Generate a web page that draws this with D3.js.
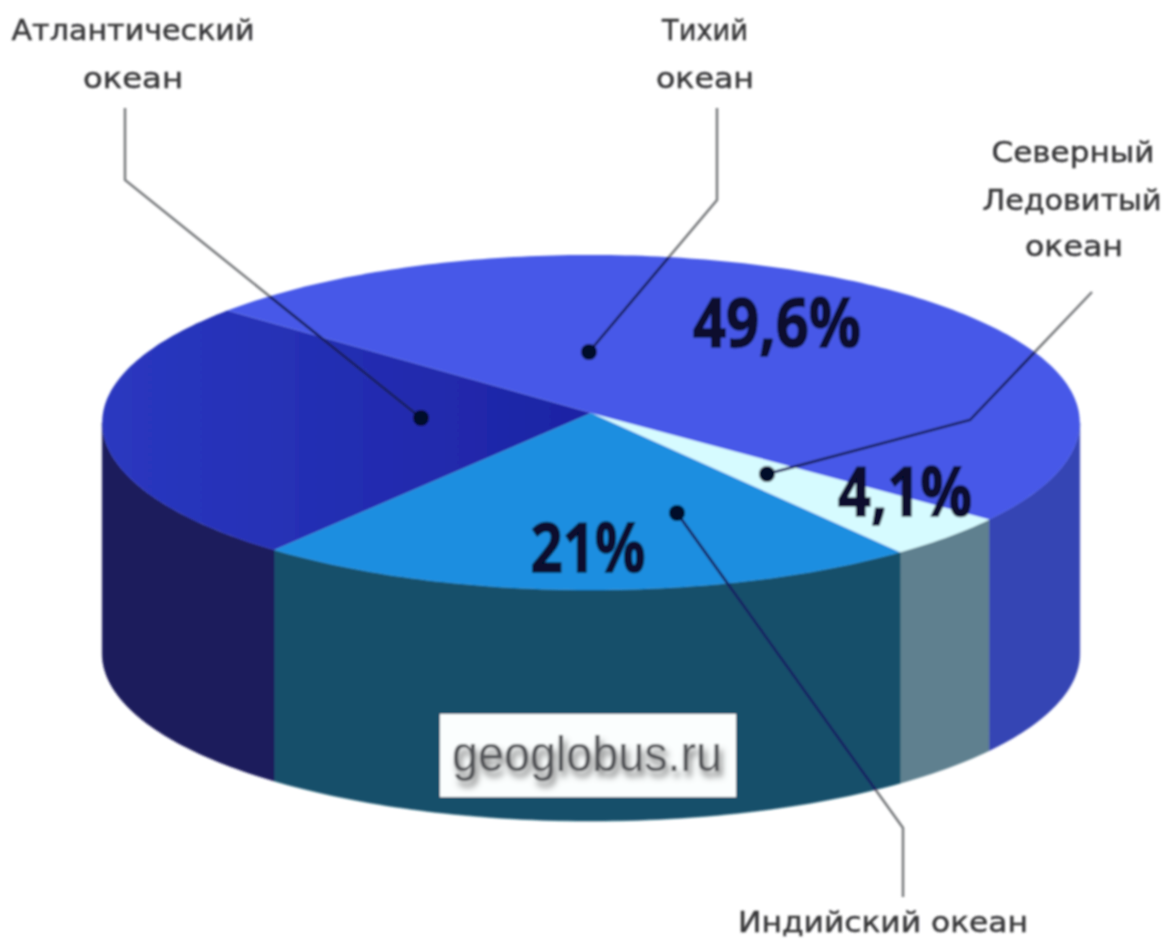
<!DOCTYPE html>
<html lang="ru">
<head>
<meta charset="utf-8">
<script src="https://cdn.jsdelivr.net/npm/d3@7"></script>
<style>
    html, body { margin: 0; padding: 0; background: #fff; }
    svg { display: block; }
</style>
</head>
<body>
<div id="div_chart"></div>
<script>
// Data (share of the world ocean, %), Atlantic is what is left of 100
var oceans = ["Северный Ледовитый океан", "Индийский океан", "Атлантический океан", "Тихий океан"];
var shares = [4.1, 21, 25.3, 49.6];
var shareLabels = ["4,1%", "21%", null, "49,6%"];

// Basic size information
var svgWidth = 1166;
var svgHeight = 941;
var wallDepth = 231;
var firstSliceAngle = 128; // degrees clockwise from 12 o'clock
var perspective = 0.0567;  // the near half of the disc looks larger than the far half

// Colors per ocean
var topColors = ["#d6fbff", "#1f8ee0", "url(#atlanticTop)", "#4659e8"];
var wallColors = ["#5f808f", "#12506a", "#1b1a5c", "#3644b4"];
var leaderInside = "#0c1260";
var leaderOutside = "#77797c";

// Disc coordinates (-1..1) to pixels, the center of the disc is the apex of the slices
var x = d3.scaleLinear().domain([-1, 1]).range([103, 1079]);
var y = d3.scaleLinear().domain([-1, 1]).range([246, 580]);

function rim(a, dy) {
    var w = 1 - perspective * -Math.cos(a);
    return [x(Math.sin(a) / w), y(-Math.cos(a) / w) + (dy || 0)];
}
function rad(deg) { return deg * Math.PI / 180; }
function arcPoints(a0, a1, dy) {
    var n = Math.max(2, Math.ceil(Math.abs(a1 - a0) / rad(1)));
    return d3.range(n + 1).map(i => rim(a0 + (a1 - a0) * i / n, dy));
}

var line = d3.line();
var pie = d3.pie().sort(null)
    .startAngle(rad(firstSliceAngle))
    .endAngle(rad(firstSliceAngle + 360));
var slices = pie(shares);

// Where the side of the disc stops being visible
var nearFrom = rad(90) + Math.asin(perspective);
var nearTo = rad(270) - Math.asin(perspective);

// Create svg canvas
var svg = d3.select("#div_chart")
    .append("svg")
        .attr("width", svgWidth)
        .attr("height", svgHeight);

var defs = svg.append("defs");
defs.append("filter").attr("id", "soft")
    .attr("x", "-5%").attr("y", "-5%").attr("width", "110%").attr("height", "110%")
    .append("feGaussianBlur").attr("stdDeviation", 0.9);
defs.append("filter").attr("id", "shadow")
    .attr("x", "-10%").attr("y", "-30%").attr("width", "120%").attr("height", "170%")
    .append("feDropShadow")
        .attr("dx", 3).attr("dy", 6).attr("stdDeviation", 3)
        .attr("flood-color", "#777");
var grad = defs.append("linearGradient").attr("id", "atlanticTop")
    .attr("gradientUnits", "userSpaceOnUse")
    .attr("x1", x(-1)).attr("x2", x(0)).attr("y1", y(0)).attr("y2", y(0));
grad.append("stop").attr("offset", 0).attr("stop-color", "#2a38c0");
grad.append("stop").attr("offset", 1).attr("stop-color", "#1d23a4");

// Outline of the whole disc, used so leaders change color over the pie
var outline = arcPoints(nearFrom, nearTo - rad(360))
    .concat(arcPoints(nearTo, nearFrom, wallDepth));
defs.append("clipPath").attr("id", "discClip")
    .append("path").attr("d", line(outline) + "Z");

var chart = svg.append("g").attr("filter", "url(#soft)");

// Walls, only the near part of the rim can be seen
var walls = chart.append("g");
slices.forEach(function (d, i) {
    [0, 360].forEach(function (turn) {
        var lo = Math.max(d.startAngle, nearFrom + rad(turn));
        var hi = Math.min(d.endAngle, nearTo + rad(turn));
        if (hi <= lo) return;
        var pts = arcPoints(lo, hi).concat(arcPoints(hi, lo, wallDepth));
        walls.append("path")
            .attr("d", line(pts) + "Z")
            .attr("fill", wallColors[i])
            .attr("stroke", wallColors[i])
            .attr("stroke-width", 0.5);
    });
});

// Top of the disc
chart.append("g").selectAll("path")
    .data(slices)
    .join("path")
        .attr("d", d => line([[x(0), y(0)]].concat(arcPoints(d.startAngle, d.endAngle))) + "Z")
        .attr("fill", (d, i) => topColors[i]);

// Leader lines, from the label to the dot on the slice
var leaders = [
    [[1092, 292], [970, 420], [767, 474]],
    [[903, 897], [903, 828], [677, 513]],
    [[125, 108], [125, 180], [421, 418]],
    [[717, 108], [717, 200], [589, 352]]
];
var leaderLine = d3.line().curve(d3.curveLinear);

chart.append("g").selectAll("path")
    .data(leaders)
    .join("path")
        .attr("d", d => leaderLine(d))
        .attr("fill", "none")
        .attr("stroke", leaderOutside)
        .attr("stroke-width", 2.5);

chart.append("g").attr("clip-path", "url(#discClip)").selectAll("path")
    .data(leaders)
    .join("path")
        .attr("d", d => leaderLine(d))
        .attr("fill", "none")
        .attr("stroke", leaderInside)
        .attr("stroke-width", 2.5);

chart.append("g").selectAll("circle")
    .data(leaders)
    .join("circle")
        .attr("cx", d => d[2][0])
        .attr("cy", d => d[2][1])
        .attr("r", 8)
        .attr("fill", "#060a2c");

// Percent labels on the slices
var percentPos = [[905, 516, 134], [588, 572, 115], null, [777, 347, 168]];
chart.append("g").selectAll("text")
    .data(shareLabels.map((t, i) => ({t: t, p: percentPos[i]})).filter(d => d.t))
    .join("text")
        .attr("x", d => d.p[0])
        .attr("y", d => d.p[1])
        .attr("text-anchor", "middle")
        .attr("textLength", d => d.p[2])
        .attr("lengthAdjust", "spacingAndGlyphs")
        .style("font", "bold 68px 'Open Sans', sans-serif")
        .attr("fill", "#07102f")
        .attr("stroke", "#07102f")
        .attr("stroke-width", 1.5)
        .text(d => d.t);

// Ocean names
var nameLines = [
    {t: "Атлантический", cx: 133, by: 40, w: 243},
    {t: "океан", cx: 133, by: 88, w: 100},
    {t: "Тихий", cx: 705, by: 40, w: 86},
    {t: "океан", cx: 705, by: 88, w: 98},
    {t: "Северный", cx: 1073, by: 162, w: 163},
    {t: "Ледовитый", cx: 1072, by: 210, w: 179},
    {t: "океан", cx: 1074, by: 256, w: 98},
    {t: "Индийский океан", cx: 883, by: 932, w: 290}
];
chart.append("g").selectAll("text")
    .data(nameLines)
    .join("text")
        .attr("x", d => d.cx)
        .attr("y", d => d.by)
        .attr("text-anchor", "middle")
        .attr("textLength", d => d.w)
        .attr("lengthAdjust", "spacingAndGlyphs")
        .style("font", "29px 'DejaVu Sans', sans-serif")
        .attr("fill", "#38383a")
        .attr("stroke", "#38383a")
        .attr("stroke-width", 0.5)
        .text(d => d.t);

// Site stamp
var stamp = chart.append("g");
stamp.append("rect")
    .attr("x", 440).attr("y", 714)
    .attr("width", 296).attr("height", 83)
    .attr("fill", "#fbfefe");
stamp.append("text")
    .attr("x", 587).attr("y", 771)
    .attr("text-anchor", "middle")
    .attr("textLength", 270)
    .attr("lengthAdjust", "spacingAndGlyphs")
    .attr("filter", "url(#shadow)")
    .style("font", "50px 'Liberation Sans', sans-serif")
    .attr("fill", "#55565a")
    .text("geoglobus.ru");
</script>
</body>
</html>
